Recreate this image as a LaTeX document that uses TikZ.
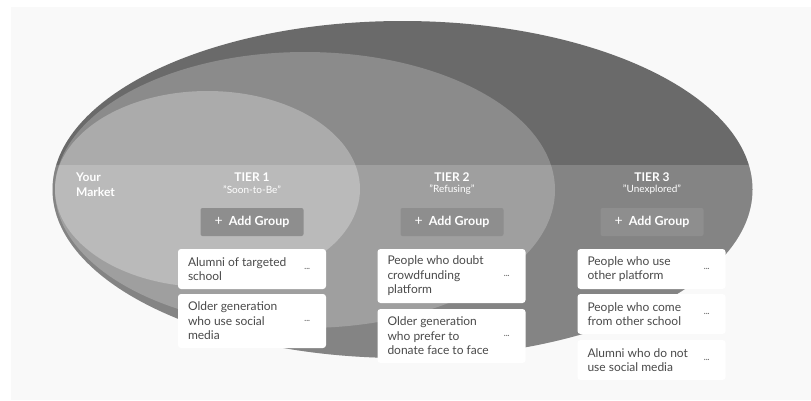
\documentclass[tikz,border=0pt]{standalone}
\usepackage{fontspec}
\setmainfont{Lato}
\definecolor{panel}{HTML}{F9F9F9}
\definecolor{outerfill}{HTML}{6A6A6A}
\definecolor{middlefill}{HTML}{8B8B8B}
\definecolor{innerfill}{HTML}{ABABAB}
\definecolor{btnfill}{HTML}{8E8E8E}
\definecolor{cardtext}{HTML}{4A4A4A}
\definecolor{dotgray}{HTML}{707070}
\begin{document}
\begin{tikzpicture}[x=1pt, y=-1pt, font=\fontsize{11}{14}\selectfont]
    \tikzstyle{headtext} = [text=white, font=\fontsize{12}{15}\selectfont\bfseries, inner sep=0pt]
    \tikzstyle{subtext} = [text=white, font=\fontsize{10}{11}\selectfont, inner sep=0pt]
    \tikzstyle{addbtn} = [fill=btnfill, rounded corners=2pt, minimum width=103pt, minimum height=28pt,
                          text=white, font=\fontsize{12.5}{14}\selectfont\bfseries, inner sep=0pt]
    \tikzstyle{card} = [fill=white, rounded corners=3pt, minimum width=148pt, inner sep=0pt]
    \tikzstyle{cardtext} = [anchor=west, align=left, text=cardtext, inner sep=0pt,
                            font=\fontsize{12}{14.5}\selectfont]
    \tikzstyle{dots} = [text=dotgray, font=\fontsize{8}{8}\selectfont\bfseries, inner sep=0pt]

    \useasboundingbox (0,0) rectangle (811,400);
    \fill[white] (0,0) rectangle (811,400);
    \fill[panel] (11,7) rectangle (811,400);

    % market ellipses
    \fill[outerfill] (402.5,189.5) ellipse [x radius=350, y radius=168.5];
    \fill[middlefill] (305,190) ellipse [x radius=250, y radius=138];
    \fill[innerfill] (207.5,189) ellipse [x radius=152.5, y radius=98];
    \begin{scope}
        \clip (402.5,189.5) ellipse [x radius=350, y radius=168.5];
        \fill[white, opacity=0.18] (0,165) rectangle (811,400);
    \end{scope}

    % header row
    \node[headtext, anchor=west, align=left] (market) at (76,184.5) {Your\\Market};
    \node[headtext] (tier1) at (252,177) {TIER 1};
    \node[subtext] (sub1) at (252,190) {"Soon-to-Be"};
    \node[headtext] (tier2) at (452,177) {TIER 2};
    \node[subtext] (sub2) at (452,190) {"Refusing"};
    \node[headtext] (tier3) at (652,177) {TIER 3};
    \node[subtext] (sub3) at (652,190) {"Unexplored"};

    \node[addbtn] (add1) at (252,222) {{\mdseries\fontsize{14}{14}\selectfont +}\ \ Add Group};
    \node[addbtn] (add2) at (452,222) {{\mdseries\fontsize{14}{14}\selectfont +}\ \ Add Group};
    \node[addbtn] (add3) at (652,222) {{\mdseries\fontsize{14}{14}\selectfont +}\ \ Add Group};

    % tier 1 groups
    \node[card, minimum height=40pt] (t1a) at (252,269) {};
    \node[cardtext] (t1a_txt) at ([xshift=10pt]t1a.west) {Alumni of targeted\\school};
    \node[dots] (t1a_dots) at ([xshift=-19pt]t1a.east) {...};
    \node[card, minimum height=54pt] (t1b) at (252,321) {};
    \node[cardtext] (t1b_txt) at ([xshift=10pt]t1b.west) {Older generation\\who use social\\media};
    \node[dots] (t1b_dots) at ([xshift=-19pt]t1b.east) {...};

    % tier 2 groups
    \node[card, minimum height=54pt] (t2a) at (451.5,276) {};
    \node[cardtext] (t2a_txt) at ([xshift=10pt]t2a.west) {People who doubt\\crowdfunding\\platform};
    \node[dots] (t2a_dots) at ([xshift=-19pt]t2a.east) {...};
    \node[card, minimum height=54pt] (t2b) at (451.5,336) {};
    \node[cardtext] (t2b_txt) at ([xshift=10pt]t2b.west) {Older generation\\who prefer to\\donate face to face};
    \node[dots] (t2b_dots) at ([xshift=-19pt]t2b.east) {...};

    % tier 3 groups
    \node[card, minimum height=40pt] (t3a) at (651.5,269) {};
    \node[cardtext] (t3a_txt) at ([xshift=10pt]t3a.west) {People who use\\other platform};
    \node[dots] (t3a_dots) at ([xshift=-19pt]t3a.east) {...};
    \node[card, minimum height=40pt] (t3b) at (651.5,314) {};
    \node[cardtext] (t3b_txt) at ([xshift=10pt]t3b.west) {People who come\\from other school};
    \node[dots] (t3b_dots) at ([xshift=-19pt]t3b.east) {...};
    \node[card, minimum height=40pt] (t3c) at (651.5,360) {};
    \node[cardtext] (t3c_txt) at ([xshift=10pt]t3c.west) {Alumni who do not\\use social media};
    \node[dots] (t3c_dots) at ([xshift=-19pt]t3c.east) {...};
\end{tikzpicture}
\end{document}
